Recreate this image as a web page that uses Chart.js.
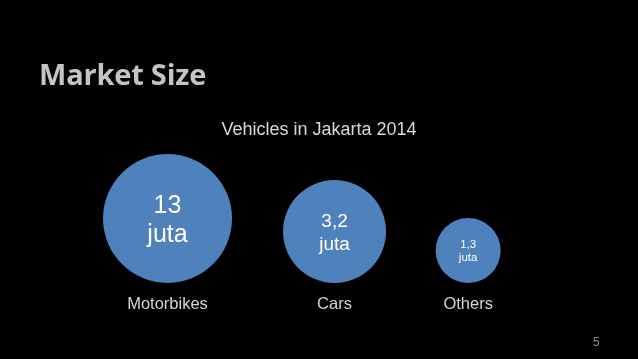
<!DOCTYPE html>
<html>
<head>
<meta charset="utf-8">
<script src="https://cdn.jsdelivr.net/npm/chart.js@4"></script>
<style>
  html, body { margin: 0; padding: 0; background: #000; }
  #slide { position: relative; width: 638px; height: 359px; overflow: hidden; background: #000; }
  #chartBox { position: absolute; left: 0; top: 0; width: 638px; height: 359px; }
  .heading { position: absolute; left: 39px; top: 59px; margin: 0; font: bold 29px "Open Sans", sans-serif; line-height: 1; color: #c4c4c4; letter-spacing: -0.2px; }
  .page { position: absolute; left: 593px; top: 336px; font: 12px "Liberation Sans", Arial, sans-serif; line-height: 1; color: #8c8c8c; }
</style>
</head>
<body>
<div id="slide">
  <div id="chartBox"><canvas id="myChart" width="638" height="359"></canvas></div>
  <h1 class="heading">Market Size</h1>
  <div class="page">5</div>
</div>
<script>
// chart data
const chartTitle = 'Vehicles in Jakarta 2014';
const categories = ['Motorbikes', 'Cars', 'Others'];
const vehicles = [13, 3.2, 1.3];          // million ("juta")
const unitLabel = 'juta';
const slot = [0, 1, 1.8];                  // horizontal placement of each bubble
const bubbleSize = [64.5, 51.5, 32.5];     // bubble radius as drawn

// font size of the value text inside each bubble
const innerFont = [25, 19, 11.5];

const fmt = (v) => String(v).replace('.', ',');

// writes "13 / juta" inside the bubbles and the category names under them
const bubbleLabels = {
  id: 'bubbleLabels',
  afterDatasetsDraw(chart) {
    const ctx = chart.ctx;
    const meta = chart.getDatasetMeta(0);
    const base = chart.scales.y.getPixelForValue(0);
    ctx.save();
    ctx.textAlign = 'center';
    meta.data.forEach((pt, i) => {
      const fs = innerFont[i];
      const cap = fs * 0.716;
      const lh = fs * 1.18;
      const firstBase = pt.y - (cap + lh) / 2 + cap;
      ctx.fillStyle = '#ffffff';
      ctx.textBaseline = 'alphabetic';
      ctx.font = fs + 'px "Liberation Sans", Arial, sans-serif';
      ctx.fillText(fmt(vehicles[i]), pt.x, firstBase);
      ctx.fillText(unitLabel, pt.x, firstBase + lh);

      ctx.fillStyle = '#d4d4d4';
      ctx.textBaseline = 'middle';
      ctx.font = '16.5px "Liberation Sans", Arial, sans-serif';
      ctx.fillText(categories[i], pt.x, base + 21);
    });
    ctx.restore();
  }
};

const ctx = document.getElementById('myChart').getContext('2d');
new Chart(ctx, {
  type: 'bubble',
  data: {
    datasets: [{
      label: chartTitle,
      data: categories.map((c, i) => ({ x: slot[i], y: bubbleSize[i], r: bubbleSize[i] })),
      backgroundColor: '#4f81bd',
      borderWidth: 0,
      hoverBorderWidth: 0
    }]
  },
  options: {
    responsive: false,
    animation: false,
    events: [],
    layout: { padding: 0, autoPadding: false },
    scales: {
      x: { type: 'linear', display: false, min: -1.003, max: 2.817 },
      y: { type: 'linear', display: false, min: -76, max: 132.4 }
    },
    plugins: {
      legend: { display: false },
      tooltip: { enabled: false },
      title: {
        display: true,
        text: chartTitle,
        color: '#d9d9d9',
        font: { family: '"Liberation Sans", Arial, sans-serif', size: 18, weight: 'normal', lineHeight: 1.2 },
        padding: { top: 119, bottom: 10 }
      }
    }
  },
  plugins: [bubbleLabels]
});
</script>
</body>
</html>
